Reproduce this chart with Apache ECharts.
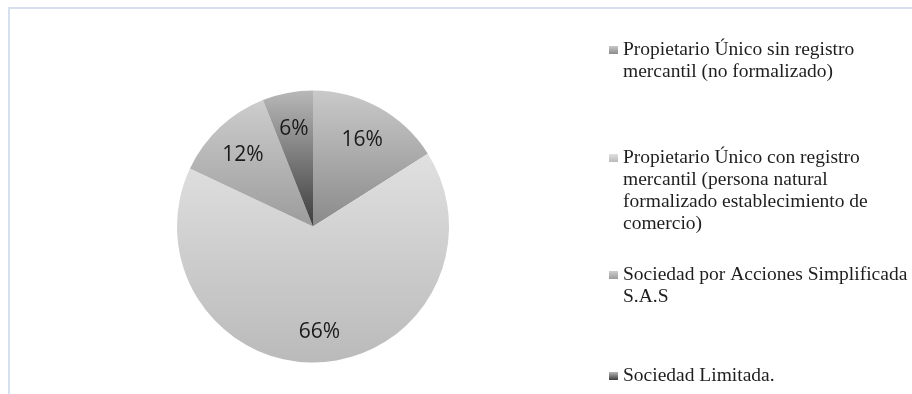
<!DOCTYPE html>
<html>
<head>
<meta charset="utf-8">
<script src="https://cdn.jsdelivr.net/npm/echarts@6/dist/echarts.min.js"></script>
<style>
  html, body { margin: 0; padding: 0; background: #ffffff; }
  #chart { width: 912px; height: 394px; }
</style>
</head>
<body>
<div id="chart"></div>
<script>
// Tipo de organización empresarial (porcentaje de establecimientos)
const categories = [
  'Propietario Único sin registro mercantil (no formalizado)',
  'Propietario Único con registro mercantil (persona natural formalizado establecimiento de comercio)',
  'Sociedad por Acciones Simplificada S.A.S',
  'Sociedad Limitada.'
];
const legendLines = [
  ['Propietario Único sin registro', 'mercantil (no formalizado)'],
  ['Propietario Único con registro', 'mercantil (persona natural', 'formalizado establecimiento de', 'comercio)'],
  ['Sociedad por Acciones Simplificada', 'S.A.S'],
  ['Sociedad Limitada.']
];
const shares = [16, 66, 12, 6];

// grey gradient per slice (top -> bottom of each sector)
const shadeTop = ['#c9c9c9', '#e0e0e0', '#cdcdcd', '#b8b8b8'];
const shadeBottom = ['#8a8a8a', '#bababa', '#9c9c9c', '#3c3c3c'];

const R = 136;
const LABEL_RATIO = 0.73;
const LINE_H = 22;
const legendFirstLine = [50, 158, 275, 376];

function fill(i) {
  return new echarts.graphic.LinearGradient(0, 0, 0, 1, [
    { offset: 0, color: shadeTop[i] },
    { offset: 1, color: shadeBottom[i] }
  ]);
}

const total = shares.reduce((a, b) => a + b, 0);

const chart = echarts.init(document.getElementById('chart'), null, { renderer: 'canvas' });

// one legend block per category; the swatch sits on the first text line
const legends = categories.map((name, i) => {
  const lines = legendLines[i];
  return {
    data: [name],
    orient: 'vertical',
    left: 604,
    top: legendFirstLine[i] - LINE_H / 2,
    padding: 0,
    itemWidth: 0,
    itemHeight: 8,
    icon: 'none',
    selectedMode: false,
    formatter: () => lines.map((t, k) => (k === 0 ? '{m|}{g|}' : '{i|}') + t).join('\n'),
    textStyle: {
      fontFamily: 'Liberation Serif',
      fontSize: 19.5,
      color: '#1e1e1e',
      lineHeight: LINE_H,
      rich: {
        m: { width: 9, height: 8, backgroundColor: fill(i), lineHeight: LINE_H },
        g: { width: 5, lineHeight: LINE_H },
        i: { width: 14, lineHeight: LINE_H }
      }
    }
  };
});

chart.setOption({
  animation: false,
  backgroundColor: '#ffffff',
  graphic: [{
    type: 'rect',
    shape: { x: 9, y: 8, width: 1000, height: 500 },
    style: { fill: 'none', stroke: '#d6e1ef', lineWidth: 2 },
    silent: true,
    z: -1
  }],
  legend: legends,
  series: [{
    type: 'pie',
    center: [313, 226.5],
    radius: R,
    startAngle: 90,
    clockwise: true,
    avoidLabelOverlap: false,
    data: categories.map((name, i) => ({
      name: name,
      value: shares[i],
      itemStyle: { color: fill(i) }
    })),
    itemStyle: { borderWidth: 0 },
    label: {
      show: true,
      position: 'inside',
      formatter: p => p.value + '%',
      fontFamily: 'Open Sans',
      fontSize: 21,
      color: '#1a1a1a'
    },
    labelLayout: function (p) {
      let before = 0;
      for (let k = 0; k < p.dataIndex; k++) before += shares[k];
      const mid = (before + shares[p.dataIndex] / 2) / total * Math.PI * 2;
      const extra = R * (LABEL_RATIO - 0.5);
      return { dx: Math.sin(mid) * extra, dy: -Math.cos(mid) * extra + 3 };
    },
    labelLine: { show: false },
    emphasis: { disabled: true }
  }]
});
</script>
</body>
</html>
